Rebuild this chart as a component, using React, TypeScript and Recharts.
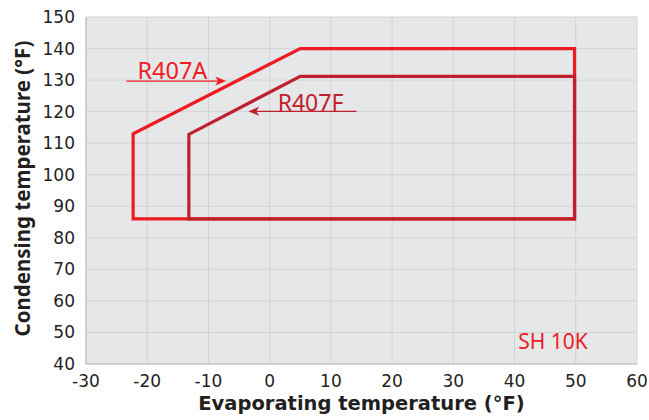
import React from 'react';
import { LineChart, Line, XAxis, YAxis, CartesianGrid, ReferenceLine, ReferenceDot, Label } from 'recharts';

const xTicks = [-30, -20, -10, 0, 10, 20, 30, 40, 50, 60];
const yTicks = [40, 50, 60, 70, 80, 90, 100, 110, 120, 130, 140, 150];

const r407aEnvelope = [
  { x: -22.3, y: 86 },
  { x: -22.3, y: 113 },
  { x: 5, y: 140 },
  { x: 49.8, y: 140 },
  { x: 49.8, y: 86 },
  { x: -22.3, y: 86 },
];

const r407fEnvelope = [
  { x: -13.2, y: 86 },
  { x: -13.2, y: 112.8 },
  { x: 5, y: 131.2 },
  { x: 49.8, y: 131.2 },
  { x: 49.8, y: 86 },
  { x: -13.2, y: 86 },
];

const labelR407A = { text: 'R407A', x: -21.6, y: 130.2 };
const labelR407F = { text: 'R407F', x: 1.3, y: 120.3 };
const labelSH = { text: 'SH 10K', x: 40.6, y: 44.9 };
const arrowR407A = [{ x: -23.4, y: 129.7 }, { x: -7.1, y: 129.7 }];
const arrowR407F = [{ x: 14.2, y: 120.1 }, { x: -3.5, y: 120.1 }];

const C_A = '#ed1c24';
const C_F = '#c0202d';

const makeArrow = (color: string) => (p: any) => {
  const { x1, y1, x2, y2 } = p;
  const dx = x2 - x1;
  const dy = y2 - y1;
  const len = Math.sqrt(dx * dx + dy * dy) || 1;
  const ux = dx / len;
  const uy = dy / len;
  const hl = 11;
  const hw = 4.5;
  const bx = x2 - ux * hl;
  const by = y2 - uy * hl;
  const nx = bx + ux * 3;
  const ny = by + uy * 3;
  return (
    <g>
      <line x1={x1} y1={y1} x2={x2 - ux * 4} y2={y2 - uy * 4} stroke={color} strokeWidth={1.3} />
      <polygon
        points={`${x2},${y2} ${bx - uy * hw},${by + ux * hw} ${nx},${ny} ${bx + uy * hw},${by - ux * hw}`}
        fill={color}
      />
    </g>
  );
};

const makeText = (text: string, color: string, size: number) => (p: any) => (
  <text x={p.cx} y={p.cy} fill={color} fontSize={size} fontFamily="Noto Sans" textAnchor="start">
    {text}
  </text>
);

const tickStyle = { fill: '#231f20', fontSize: 17, fontFamily: 'DejaVu Sans' };

export default function App() {
  return (
    <div style={{ position: 'absolute', left: 0, top: 0 }}>
      <LineChart width={649} height={420} margin={{ top: 17, right: 12, left: 0, bottom: 0 }}>
        <CartesianGrid stroke="#d2d3d5" fill="#e6e7e8" fillOpacity={1} />
        <XAxis
          type="number"
          dataKey="x"
          domain={[-30, 60]}
          ticks={xTicks}
          allowDataOverflow
          height={56}
          tickLine={false}
          tickSize={0}
          tickMargin={11}
          axisLine={{ stroke: '#c6c7c9', strokeWidth: 1.5 }}
          tick={tickStyle}
        >
          <Label
            content={(props: any) => {
              const vb = props.viewBox;
              return (
                <text
                  x={vb.x + vb.width / 2}
                  y={vb.y + 46}
                  textAnchor="middle"
                  fontFamily="DejaVu Sans"
                  fontWeight="bold"
                  fontSize={19.5}
                  fill="#231f20"
                >
                  Evaporating temperature (°F)
                </text>
              );
            }}
          />
        </XAxis>
        <YAxis
          type="number"
          domain={[40, 150]}
          ticks={yTicks}
          allowDataOverflow
          width={86}
          tickLine={false}
          tickSize={0}
          tickMargin={11}
          axisLine={{ stroke: '#c6c7c9', strokeWidth: 1.5 }}
          tick={tickStyle}
        >
          <Label
            content={(props: any) => {
              const vb = props.viewBox;
              const cx = vb.x + 22;
              const cy = vb.y + vb.height / 2 - 2;
              return (
                <text
                  x={cx}
                  y={cy}
                  transform={`rotate(-90 ${cx} ${cy})`}
                  textAnchor="middle"
                  dominantBaseline="central"
                  fontFamily="Noto Sans"
                  fontWeight="bold"
                  fontSize={20.5}
                  fill="#231f20"
                >
                  Condensing temperature (°F)
                </text>
              );
            }}
          />
        </YAxis>
        <Line
          data={r407aEnvelope}
          dataKey="y"
          type="linear"
          stroke={C_A}
          strokeWidth={3.2}
          strokeLinejoin="miter"
          strokeLinecap="square"
          dot={false}
          activeDot={false}
          isAnimationActive={false}
        />
        <Line
          data={r407fEnvelope}
          dataKey="y"
          type="linear"
          stroke={C_F}
          strokeWidth={3.2}
          strokeLinejoin="miter"
          strokeLinecap="square"
          dot={false}
          activeDot={false}
          isAnimationActive={false}
        />
        <ReferenceLine segment={arrowR407A} shape={makeArrow(C_A)} ifOverflow="visible" />
        <ReferenceLine segment={arrowR407F} shape={makeArrow(C_F)} ifOverflow="visible" />
        <ReferenceDot x={labelR407A.x} y={labelR407A.y} r={0} shape={makeText(labelR407A.text, C_A, 23.5)} ifOverflow="visible" />
        <ReferenceDot x={labelR407F.x} y={labelR407F.y} r={0} shape={makeText(labelR407F.text, C_F, 23)} ifOverflow="visible" />
        <ReferenceDot x={labelSH.x} y={labelSH.y} r={0} shape={makeText(labelSH.text, C_A, 21)} ifOverflow="visible" />
      </LineChart>
    </div>
  );
}
